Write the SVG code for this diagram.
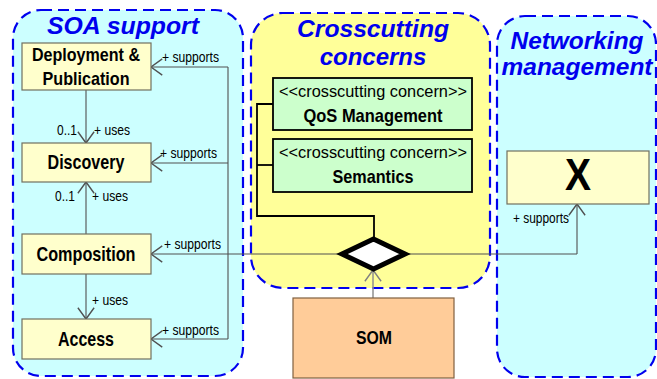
<svg xmlns="http://www.w3.org/2000/svg" width="657" height="379" viewBox="0 0 657 379">
<defs>
<style>
.cont{stroke:#0000EE;stroke-width:2.2;stroke-dasharray:11 6}
.title{font-family:"Liberation Sans",Arial,sans-serif;font-weight:bold;font-style:italic;font-size:24px;fill:#0000EE;text-anchor:middle}
.node{fill:#FFFFCC;stroke:#707060;stroke-width:1.2}
.green{fill:#CCFFCC;stroke:#000;stroke-width:1.8}
.nt{font-family:"Liberation Sans",Arial,sans-serif;font-weight:bold;font-size:21px;fill:#000;text-anchor:middle}
.nt2{font-family:"Liberation Sans",Arial,sans-serif;font-weight:bold;font-size:19px;fill:#000;text-anchor:middle}
.st{font-family:"Liberation Sans",Arial,sans-serif;font-size:17px;fill:#000;text-anchor:middle}
.lbl{font-family:"Liberation Sans",Arial,sans-serif;font-size:14px;fill:#000}
.c{fill:none;stroke:#505050;stroke-width:1.1}
.b{fill:none;stroke:#000;stroke-width:1.8}
</style>
<marker id="arr" markerUnits="userSpaceOnUse" markerWidth="20" markerHeight="20" viewBox="-10 -8 12 16" refX="0" refY="0" orient="auto">
<path d="M-9,-6.5 L0,0 L-9,6.5" fill="none" stroke="#505050" stroke-width="1.1"/>
</marker>
<marker id="arrg" markerUnits="userSpaceOnUse" markerWidth="20" markerHeight="20" viewBox="-10 -8 12 16" refX="0" refY="0" orient="auto">
<path d="M-9,-6.5 L0,0 L-9,6.5" fill="none" stroke="#808080" stroke-width="1.1"/>
</marker>
</defs>
<g id="containers">
<rect id="soa-support" class="cont" x="13" y="10" width="230" height="366" rx="28" fill="#CCFFFF"/>
<rect id="crosscutting-concerns" class="cont" x="251" y="13" width="239" height="275" rx="32" fill="#FFFF99"/>
<rect id="networking-management" class="cont" x="497" y="16" width="159" height="361" rx="28" fill="#CCFFFF"/>
<text class="title" x="123" y="34" textLength="152" lengthAdjust="spacingAndGlyphs">SOA support</text>
<text class="title" x="373" y="37" textLength="152" lengthAdjust="spacingAndGlyphs">Crosscutting</text>
<text class="title" x="373" y="65">concerns</text>
<text class="title" x="577" y="49" textLength="133" lengthAdjust="spacingAndGlyphs">Networking</text>
<text class="title" x="577" y="75" textLength="151" lengthAdjust="spacingAndGlyphs">management</text>
</g>
<g id="connectors">
<path class="c" d="M86,90 V143" marker-end="url(#arr)"/>
<path class="c" d="M86,234 V182" marker-end="url(#arr)"/>
<path class="c" d="M86,274 V319" marker-end="url(#arr)"/>
<path class="c" d="M228,67 H151" marker-end="url(#arr)"/>
<path class="c" d="M228,163 H151" marker-end="url(#arr)"/>
<path class="c" d="M228,339 H151" marker-end="url(#arr)"/>
<path class="c" d="M228,67 V339"/>
<path class="c" d="M577,254 H151" marker-end="url(#arr)"/>
<path class="c" d="M577,254 V204" marker-end="url(#arr)"/>
<path d="M373,298 V270" fill="none" stroke="#909090" stroke-width="1.5" marker-end="url(#arrg)"/>
<path class="b" d="M273,104 H257 V216 H374 V238"/>
<path class="b" d="M257,165 H273"/>
<text class="lbl" x="162" y="62" textLength="57" lengthAdjust="spacingAndGlyphs">+ supports</text>
<text class="lbl" x="160" y="158" textLength="57" lengthAdjust="spacingAndGlyphs">+ supports</text>
<text class="lbl" x="164" y="249" textLength="57" lengthAdjust="spacingAndGlyphs">+ supports</text>
<text class="lbl" x="162" y="335" textLength="57" lengthAdjust="spacingAndGlyphs">+ supports</text>
<text class="lbl" x="513" y="223" textLength="56" lengthAdjust="spacingAndGlyphs">+ supports</text>
<text class="lbl" x="57" y="135" textLength="20" lengthAdjust="spacingAndGlyphs">0..1</text>
<text class="lbl" x="94" y="135" textLength="36" lengthAdjust="spacingAndGlyphs">+ uses</text>
<text class="lbl" x="55" y="201" textLength="20" lengthAdjust="spacingAndGlyphs">0..1</text>
<text class="lbl" x="92" y="201" textLength="36" lengthAdjust="spacingAndGlyphs">+ uses</text>
<text class="lbl" x="92" y="305" textLength="36" lengthAdjust="spacingAndGlyphs">+ uses</text>
</g>
<g id="deployment-publication">
<rect class="node" x="22" y="43" width="129" height="47"/>
<text class="nt2" x="86" y="61" textLength="108" lengthAdjust="spacingAndGlyphs">Deployment &amp;</text>
<text class="nt2" x="86" y="85" textLength="87" lengthAdjust="spacingAndGlyphs">Publication</text>
</g>
<g id="discovery">
<rect class="node" x="22" y="143" width="129" height="39"/>
<text class="nt" x="86" y="169" textLength="77" lengthAdjust="spacingAndGlyphs">Discovery</text>
</g>
<g id="composition">
<rect class="node" x="22" y="234" width="129" height="40"/>
<text class="nt" x="86" y="261" textLength="99" lengthAdjust="spacingAndGlyphs">Composition</text>
</g>
<g id="access">
<rect class="node" x="22" y="319" width="129" height="40"/>
<text class="nt" x="86" y="346" textLength="56" lengthAdjust="spacingAndGlyphs">Access</text>
</g>
<g id="qos-management">
<rect class="green" x="273" y="78" width="199" height="52"/>
<text class="st" x="373" y="97" textLength="188" lengthAdjust="spacingAndGlyphs">&lt;&lt;crosscutting concern&gt;&gt;</text>
<text class="nt2" x="373" y="122" textLength="139" lengthAdjust="spacingAndGlyphs">QoS Management</text>
</g>
<g id="semantics">
<rect class="green" x="273" y="139" width="199" height="53"/>
<text class="st" x="373" y="158" textLength="188" lengthAdjust="spacingAndGlyphs">&lt;&lt;crosscutting concern&gt;&gt;</text>
<text class="nt2" x="373" y="183" textLength="81" lengthAdjust="spacingAndGlyphs">Semantics</text>
</g>
<g id="aggregation">
<path d="M373.5,239 L405,254 L373.5,269 L342,254 Z" fill="#FFFFFF" stroke="#000" stroke-width="5" stroke-linejoin="miter"/>
</g>
<g id="som">
<rect x="293" y="298" width="161" height="80" fill="#FFCC99" stroke="#806040" stroke-width="1.2"/>
<text class="nt2" x="374" y="344" textLength="36" lengthAdjust="spacingAndGlyphs">SOM</text>
</g>
<g id="x-node">
<rect class="node" x="507" y="151" width="142" height="53"/>
<text class="nt" x="578" y="190" style="font-size:45px" textLength="26" lengthAdjust="spacingAndGlyphs">X</text>
</g>
</svg>
